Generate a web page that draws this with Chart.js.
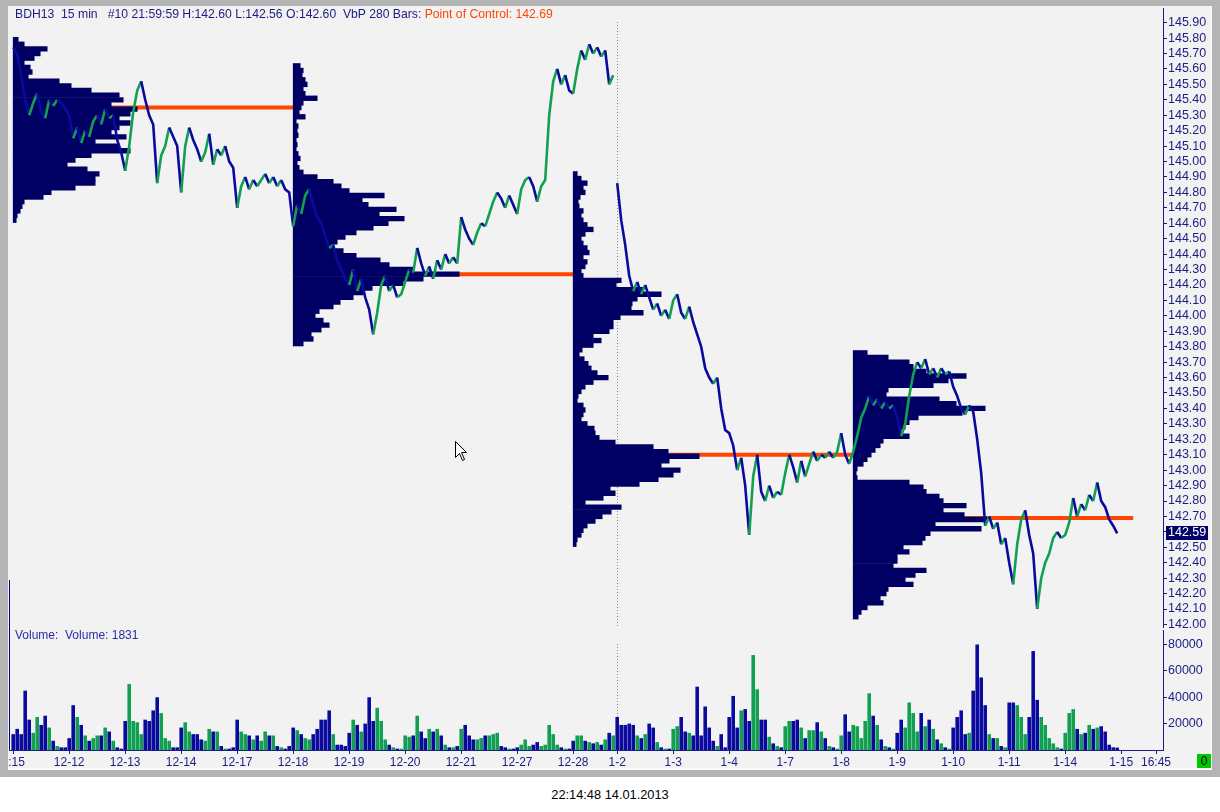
<!DOCTYPE html>
<html lang="en">
<head>
    <meta charset="UTF-8">
    <title>BDH13 15 min - Volume by Price</title>
    <script src="https://cdn.jsdelivr.net/npm/chart.js@4.4.1/dist/chart.umd.min.js"></script>
    <style>
        body {
            margin: 0;
            width: 1220px;
            height: 812px;
            position: relative;
            overflow: hidden;
            background: #ffffff;
            font-family: "Liberation Sans", Arial, sans-serif;
        }

        .frame {
            position: absolute;
            left: 0; top: 0;
            width: 1220px; height: 777px;
            background: #b4b4b4;
        }

        .panel {
            position: absolute;
            left: 8px; top: 6px;
            width: 1202px; height: 762px;
            background: #f2f2f2;
            border-right: 2px solid #fafafa;
            border-bottom: 2px solid #fafafa;
        }

        canvas { position: absolute; left: 9px; }
        #priceChart { top: 8px; }
        #volumeChart { top: 630px; }

        .text {
            position: absolute;
            font-size: 12.2px;
            line-height: 14px;
            white-space: pre;
        }
        .header { left: 15px; top: 7px; color: #1c1c84; }
        .header span { color: #ff4500; }
        .vol-title { left: 15px; top: 628px; color: #2b2ba6; font-size: 12px; }
        .footer { left: 0; width: 1220px; top: 788px; text-align: center; color: #000; font-size: 12.8px; }
        .zero-box {
            position: absolute;
            left: 1197px; top: 754px;
            width: 14px; height: 14px;
            background: #00c800;
            color: #000;
            font-size: 12px;
            line-height: 14px;
            text-align: center;
        }
        .left-line {
            position: absolute;
            left: 9px; top: 580px;
            width: 1px; height: 170px;
            background: #000080;
        }
        .cursor { position: absolute; left: 455px; top: 441px; }
    </style>
</head>
<body>
    <div class="frame"></div>
    <div class="panel"></div>
    <div class="left-line"></div>

    <canvas id="priceChart" width="1203" height="620"></canvas>
    <canvas id="volumeChart" width="1203" height="140"></canvas>

    <div class="text header">BDH13  15 min   #10 21:59:59 H:142.60 L:142.56 O:142.60  VbP 280 Bars: <span>Point of Control: 142.69</span></div>
    <div class="text vol-title">Volume:  Volume: 1831</div>
    <div class="zero-box">0</div>
    <div class="text footer">22:14:48 14.01.2013</div>

    <svg class="cursor" width="13" height="21" viewBox="0 0 13 21">
        <path d="M0.5 0.5 L0.5 16.5 L4.5 12.5 L7.5 19.5 L9.5 18.5 L6.5 11.5 L11.5 11.5 Z" fill="#ffffff" stroke="#000000" stroke-width="1"/>
    </svg>

    <script>
        // ---- data (one sample = 4 bars of 15 min) ----
        const dayLabels = [':15', '12-12', '12-13', '12-14', '12-17', '12-18', '12-19', '12-20', '12-21', '12-27',
                           '12-28', '1-2', '1-3', '1-4', '1-7', '1-8', '1-9', '1-10', '1-11', '1-14', '1-15'];
        const samplesPerDay = [14, 14, 14, 14, 14, 14, 14, 14, 14, 14, 11, 14, 14, 14, 14, 14, 14, 14, 14, 14];
        const futureLabel = '16:45';

        const closes = [
            145.74, 145.70, 145.56, 145.40, 145.30, 145.38, 145.44, 145.32, 145.28, 145.40, 145.36, 145.40, 145.38, 145.34,
            145.30, 145.15, 145.22, 145.12, 145.20, 145.16, 145.26, 145.30, 145.24, 145.34, 145.28, 145.30, 145.14, 145.06,
            144.94, 145.10, 145.32, 145.46, 145.52, 145.40, 145.30, 145.24, 144.86, 145.04, 145.10, 145.22, 145.16, 145.10,
            144.80, 145.10, 145.22, 145.14, 145.08, 145.00, 145.06, 145.18, 144.98, 145.08, 145.04, 145.10, 145.00, 144.96,
            144.70, 144.84, 144.90, 144.82, 144.88, 144.84, 144.88, 144.92, 144.86, 144.90, 144.84, 144.88, 144.82, 144.80,
            144.58, 144.72, 144.66, 144.78, 144.82, 144.72, 144.64, 144.60, 144.52, 144.44, 144.46, 144.36, 144.30, 144.24,
            144.20, 144.30, 144.16, 144.24, 144.12, 144.04, 143.88, 144.02, 144.20, 144.26, 144.16, 144.20, 144.12, 144.14,
            144.22, 144.30, 144.28, 144.44, 144.34, 144.26, 144.32, 144.24, 144.36, 144.30, 144.40, 144.34, 144.38, 144.34,
            144.64, 144.56, 144.50, 144.46, 144.54, 144.60, 144.58, 144.66, 144.74, 144.80, 144.76, 144.70, 144.78, 144.72,
            144.66, 144.82, 144.88, 144.90, 144.84, 144.74, 144.84, 144.88, 145.30, 145.52, 145.60, 145.50, 145.56, 145.46,
            145.44, 145.60, 145.72, 145.66, 145.76, 145.70, 145.74, 145.68, 145.72, 145.50, 145.56,
            144.86, 144.62, 144.46, 144.26, 144.16, 144.22, 144.14, 144.20, 144.12, 144.04, 144.08, 144.00, 144.04, 143.98,
            144.10, 144.14, 144.02, 143.98, 144.06, 143.96, 143.88, 143.80, 143.66, 143.60, 143.56, 143.60, 143.40, 143.26,
            143.24, 143.16, 143.00, 143.08, 142.90, 142.58, 142.96, 143.10, 142.86, 142.80, 142.90, 142.82, 142.86, 142.84,
            142.98, 143.10, 143.02, 142.92, 143.06, 142.96, 143.04, 143.12, 143.06, 143.10, 143.08, 143.12, 143.08, 143.12,
            143.24, 143.10, 143.04, 143.12, 143.22, 143.34, 143.40, 143.48, 143.42, 143.46, 143.40, 143.44, 143.40, 143.42,
            143.34, 143.22, 143.30, 143.48, 143.62, 143.70, 143.66, 143.72, 143.62, 143.66, 143.60, 143.66, 143.62, 143.64,
            143.54, 143.48, 143.40, 143.36, 143.42, 143.38, 143.20, 142.98, 142.64, 142.70, 142.62, 142.66, 142.52, 142.56,
            142.40, 142.26, 142.52, 142.68, 142.74, 142.58, 142.46, 142.10, 142.30, 142.40, 142.46, 142.56, 142.60, 142.56,
            142.58, 142.66, 142.82, 142.70, 142.78, 142.74, 142.84, 142.80, 142.92, 142.80, 142.76, 142.68, 142.64, 142.59
        ];

        // volume per sample, in thousands of contracts
        const volumes = [
            12, 16, 12, 45, 23, 13, 25, 19, 26, 17, 7, 3, 2, 2,
            9, 34, 25, 19, 11, 7, 9, 11, 11, 17, 14, 7, 2, 1,
            22, 50, 22, 21, 12, 23, 22, 30, 40, 28, 9, 7, 2, 2,
            17, 21, 14, 12, 12, 8, 7, 16, 14, 14, 3, 1, 1, 2,
            23, 14, 12, 11, 8, 11, 7, 14, 11, 11, 3, 2, 1, 3,
            17, 15, 12, 9, 8, 12, 16, 23, 23, 30, 12, 4, 4, 3,
            13, 23, 19, 14, 20, 40, 22, 32, 22, 8, 4, 2, 1, 1,
            11, 10, 11, 26, 14, 9, 16, 14, 16, 11, 4, 2, 2, 3,
            16, 19, 11, 8, 8, 9, 11, 11, 12, 13, 3, 2, 1, 1,
            2, 4, 8, 3, 4, 6, 3, 4, 19, 12, 4, 2, 1, 1,
            7, 11, 11, 7, 6, 5, 6, 4, 8, 13, 11,
            25, 19, 19, 20, 19, 11, 9, 12, 20, 17, 6, 2, 1, 1,
            16, 18, 25, 14, 13, 11, 48, 11, 33, 17, 7, 3, 12, 2,
            25, 41, 17, 30, 31, 22, 72, 46, 23, 23, 10, 5, 3, 2,
            18, 22, 22, 23, 17, 9, 15, 15, 21, 14, 9, 3, 2, 1,
            11, 27, 14, 19, 18, 9, 22, 43, 26, 19, 8, 3, 2, 1,
            13, 23, 17, 36, 28, 14, 28, 18, 23, 16, 8, 5, 2, 1,
            17, 25, 30, 12, 13, 45, 80, 55, 34, 12, 9, 9, 3, 2,
            36, 36, 34, 25, 12, 25, 75, 38, 25, 19, 9, 5, 2, 1,
            13, 28, 31, 16, 12, 13, 19, 16, 17, 18, 14, 4, 2, 1.831
        ];

        // volume-by-price profiles (280 bars = 70 samples each), rows every 0.03 from the low
        const profileStarts = [0, 70, 140, 210];
        const profileLows = [144.62, 143.82, 142.52, 142.05];
        const pocPrices = [145.35, 144.27, 143.10, 142.69];
        const profile1 = [3, 4, 7, 9, 11, 30, 38, 62, 82, 82, 86, 74, 54, 62, 78, 117, 106, 82, 113, 98,
                          106, 117, 106, 117, 124, 98, 110, 106, 78, 58, 46, 15, 19, 17, 11, 21, 27, 34, 11, 5];
        const profile2 = [10, 20, 18, 28, 36, 30, 22, 26, 40, 47, 60, 70, 79, 110, 130, 166, 120, 96, 87, 63,
                          50, 40, 44, 52, 63, 80, 95, 111, 86, 103, 75, 69, 91, 56, 48, 40, 24, 10, 6, 4,
                          7, 5, 3, 4, 3, 5, 4, 5, 3, 12, 6, 8, 10, 24, 12, 10, 14, 12, 9, 10, 7];
        const profile3 = [3, 4, 8, 10, 14, 22, 29, 38, 48, 12, 30, 42, 37, 66, 85, 100, 107, 88, 96, 126,
                          95, 80, 42, 26, 22, 21, 14, 8, 10, 12, 10, 4, 5, 8, 12, 20, 35, 24, 18, 15,
                          11, 6, 9, 20, 28, 20, 36, 40, 40, 47, 70, 58, 59, 64, 88, 70, 43, 48, 10, 8,
                          12, 14, 10, 16, 14, 10, 8, 12, 20, 14, 10, 8, 10, 6, 5, 7, 12, 10, 14, 8, 4];
        const profile4 = [5, 8, 14, 30, 27, 33, 35, 60, 52, 62, 73, 40, 44, 44, 56, 50, 69, 72, 77, 128,
                          82, 134, 111, 90, 113, 90, 86, 73, 70, 56, 4, 3, 4, 10, 14, 18, 22, 27, 30, 56,
                          48, 52, 56, 65, 109, 132, 103, 86, 33, 35, 80, 95, 113, 73, 60, 56, 35, 14];
        const profiles = [profile1, profile2, profile3, profile4];

        const priceTicks = [142.0, 142.1, 142.2, 142.3, 142.4, 142.5, 142.6, 142.7, 142.8, 142.9,
                            143.0, 143.1, 143.2, 143.3, 143.4, 143.5, 143.6, 143.7, 143.8, 143.9,
                            144.0, 144.1, 144.2, 144.3, 144.4, 144.5, 144.6, 144.7, 144.8, 144.9,
                            145.0, 145.1, 145.2, 145.3, 145.4, 145.5, 145.6, 145.7, 145.8, 145.9];
        const volumeTicks = [20000, 40000, 60000, 80000];

        // ---- styling / layout ----
        const NAVY = '#1c1c84';
        const PROFILE_NAVY = '#000064';
        const UP = '#10a050';
        const DOWN = '#0a0a9e';
        const POC = '#ff4500';
        const profileStep = 0.03;
        const profileScale = 0.25;      // samples per profile volume unit
        const periodLength = 70;
        const xMin = -1.05, xMax = 287.45;
        const axisWidth = 49;

        Chart.defaults.font.family = '"Liberation Sans", Arial, sans-serif';

        const dayStarts = [0];
        samplesPerDay.forEach(n => dayStarts.push(dayStarts[dayStarts.length - 1] + n));
        const tickPositions = dayStarts.concat([dayStarts[dayStarts.length - 1] + 8.7]);
        const tickLabels = dayLabels.concat([futureLabel]);
        const yearStart = dayStarts[dayLabels.indexOf('1-2')];
        const dayStartSet = new Set(dayStarts);

        const isUp = i => i > 0 && closes[i] > closes[i - 1];

        // keep the plot area flush with the canvas edges
        const noLabelPadding = axis => {
            axis.paddingTop = 0;
            axis.paddingBottom = 0;
            axis.paddingLeft = 0;
            axis.paddingRight = 0;
        };

        // dotted separator at the new year and the last price tag
        const markers = {
            id: 'markers',
            beforeDatasetsDraw(chart) {
                const {ctx, chartArea, scales} = chart;
                const x = Math.round(scales.x.getPixelForValue(yearStart)) + 0.5;
                ctx.save();
                ctx.strokeStyle = '#8c8c8c';
                ctx.lineWidth = 1;
                ctx.setLineDash([1, 2]);
                ctx.beginPath();
                ctx.moveTo(x, chartArea.top + 14);
                ctx.lineTo(x, chartArea.bottom);
                ctx.stroke();
                ctx.restore();
            },
            afterDraw(chart, args, opts) {
                if (!opts.lastPrice) return;
                const {ctx, scales} = chart;
                const last = closes[closes.length - 1];
                const y = scales.y.getPixelForValue(last);
                const left = scales.y.left + 3;
                ctx.save();
                ctx.fillStyle = '#000066';
                ctx.fillRect(left, Math.round(y - 7), 42, 14);
                ctx.fillStyle = '#ffffff';
                ctx.font = '12.5px "Liberation Sans", Arial, sans-serif';
                ctx.textBaseline = 'middle';
                ctx.fillText(last.toFixed(2), left + 2, Math.round(y));
                ctx.restore();
            }
        };

        // ---- price panel ----
        const priceData = closes.map((c, i) => ({x: i, y: c}));

        const pocSets = pocPrices.map((p, k) => ({
            type: 'line',
            data: [{x: profileStarts[k], y: p}, {x: profileStarts[k] + periodLength, y: p}],
            borderColor: POC,
            borderWidth: 4,
            pointRadius: 0,
            order: 2
        }));

        const profileSets = profiles.map((rows, k) => ({
            type: 'bar',
            indexAxis: 'y',
            data: rows.map((v, r) => ({
                y: +(profileLows[k] + profileStep * r).toFixed(3),
                x: [profileStarts[k], profileStarts[k] + v * profileScale]
            })),
            backgroundColor: PROFILE_NAVY,
            borderWidth: 0,
            barThickness: 4.7,
            grouped: false,
            order: 1
        }));

        new Chart(document.getElementById('priceChart'), {
            type: 'line',
            data: {
                datasets: [{
                    data: priceData,
                    borderColor: DOWN,
                    borderWidth: 2.6,
                    pointRadius: 0,
                    tension: 0,
                    order: 0,
                    segment: {
                        borderColor: ctx => {
                            const i = ctx.p1DataIndex;
                            if (dayStartSet.has(i) && Math.abs(closes[i] - closes[i - 1]) > 0.5) return 'rgba(0,0,0,0)';
                            return isUp(i) ? UP : DOWN;
                        }
                    }
                }, ...pocSets, ...profileSets]
            },
            options: {
                responsive: false,
                maintainAspectRatio: false,
                animation: false,
                layout: {padding: 0, autoPadding: false},
                plugins: {legend: {display: false}, tooltip: {enabled: false}, markers: {lastPrice: true}},
                scales: {
                    x: {type: 'linear', min: xMin, max: xMax, display: false, offset: false, beginAtZero: false},
                    y: {
                        type: 'linear',
                        position: 'right',
                        min: 141.977,
                        max: 145.995,
                        offset: false,
                        afterBuildTicks: axis => { axis.ticks = priceTicks.map(v => ({value: v})); },
                        afterFit: axis => { axis.width = axisWidth; noLabelPadding(axis); },
                        ticks: {
                            autoSkip: false,
                            padding: 1,
                            color: NAVY,
                            font: {size: 12.5},
                            callback: v => v.toFixed(2)
                        },
                        grid: {offset: false, drawOnChartArea: false, drawTicks: true, tickLength: 4, color: NAVY},
                        border: {display: true, color: NAVY}
                    }
                }
            },
            plugins: [markers]
        });

        // ---- volume panel ----
        new Chart(document.getElementById('volumeChart'), {
            type: 'bar',
            data: {
                datasets: [{
                    data: volumes.map((v, i) => ({x: i, y: Math.round(v * 1000)})),
                    backgroundColor: volumes.map((v, i) => isUp(i) ? UP : DOWN),
                    borderWidth: 0,
                    barPercentage: 0.9,
                    categoryPercentage: 1
                }]
            },
            options: {
                responsive: false,
                maintainAspectRatio: false,
                animation: false,
                layout: {padding: 0, autoPadding: false},
                plugins: {legend: {display: false}, tooltip: {enabled: false}, markers: {lastPrice: false}},
                scales: {
                    x: {
                        type: 'linear',
                        min: xMin,
                        max: xMax,
                        offset: false,
                        afterBuildTicks: axis => { axis.ticks = tickPositions.map(v => ({value: v})); },
                        afterFit: axis => { axis.height = 20; noLabelPadding(axis); },
                        ticks: {
                            autoSkip: false,
                            maxRotation: 0,
                            padding: 1,
                            color: NAVY,
                            font: {size: 12},
                            // the first label is cut by the left edge of the panel
                            callback: (v, i) => (i === 0 ? '  ' : '') + tickLabels[i]
                        },
                        grid: {offset: false, drawOnChartArea: false, drawTicks: true, tickLength: 4, color: NAVY},
                        border: {display: true, color: NAVY}
                    },
                    y: {
                        type: 'linear',
                        position: 'right',
                        min: 0,
                        max: 91000,
                        afterBuildTicks: axis => { axis.ticks = volumeTicks.map(v => ({value: v})); },
                        afterFit: axis => { axis.width = axisWidth; noLabelPadding(axis); },
                        ticks: {
                            autoSkip: false,
                            padding: 1,
                            color: NAVY,
                            font: {size: 12.5},
                            callback: v => String(v)
                        },
                        grid: {drawOnChartArea: false, drawTicks: true, tickLength: 4, color: NAVY},
                        border: {display: true, color: NAVY}
                    }
                }
            },
            plugins: [markers]
        });
    </script>
</body>
</html>
